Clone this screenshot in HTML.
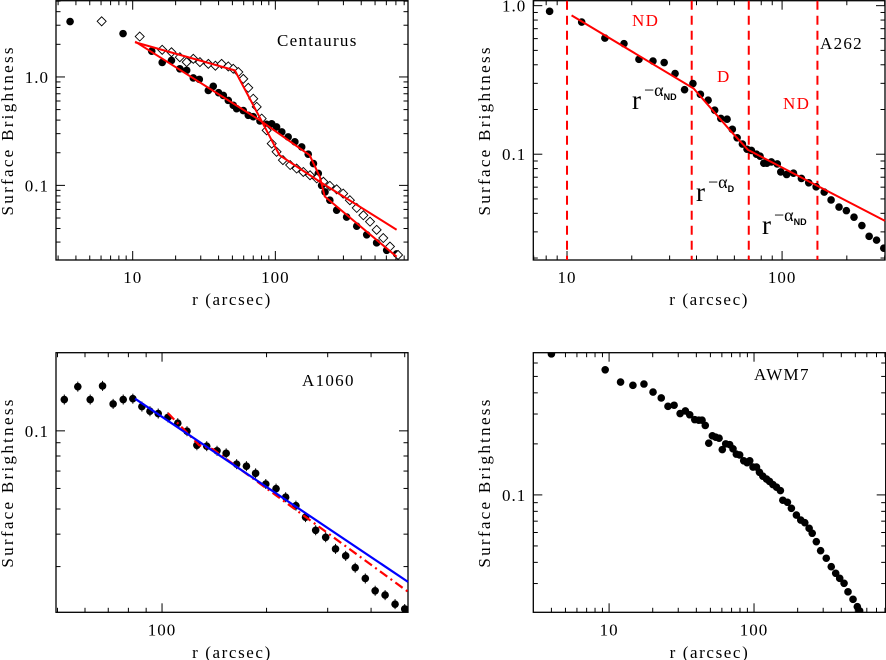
<!DOCTYPE html>
<html><head><meta charset="utf-8">
<style>
html,body{margin:0;padding:0;background:#fff;}
svg{display:block;font-family:"Liberation Serif",serif;}
</style></head>
<body>
<svg id="fig" width="886" height="660" viewBox="0 0 886 660" xmlns="http://www.w3.org/2000/svg"></svg>
<script>
// ---------- Panel 1: Centaurus ----------
const cenFilledR  = [3.64,8.56,13.6,16.1,18.7,21.4,23.9,26.6,29.3,33.9,36.7,40.0,43.2,46.8,50.7,53.5,59.6,64.6,70.0,78.0,86.9,94.3,102,111,123,137,153,170,185,200,211,223,241,269,316,372,437,513,603,708];
const cenFilledSB = [3.24,2.51,1.73,1.36,1.42,1.19,1.15,0.98,0.95,0.75,0.82,0.716,0.676,0.608,0.547,0.51,0.49,0.443,0.43,0.393,0.366,0.37,0.346,0.311,0.28,0.252,0.226,0.194,0.159,0.129,0.1,0.087,0.073,0.059,0.051,0.042,0.035,0.0295,0.0252,0.0233];
const cenDiamR  = [6.06,11.2,16.1,18.7,21.4,23.9,26.6,29.6,33.9,38.0,42,46.8,50.7,55,59.6,64.6,70,74,80.2,86.9,94.3,102,113,127,141,157,175,195,217,241,269,299,333,372,414,461,513,571,636,725];
const cenDiamSB = [3.26,2.36,1.78,1.69,1.52,1.37,1.47,1.37,1.32,1.27,1.32,1.25,1.19,1.11,0.96,0.795,0.63,0.53,0.413,0.322,0.243,0.204,0.171,0.154,0.143,0.133,0.124,0.116,0.108,0.099,0.092,0.084,0.073,0.062,0.053,0.0463,0.0389,0.0327,0.0273,0.0228];
const cenFitDiamR  = [10.4,52,82,107,205,708];
const cenFitDiamSB = [2.09,1.15,0.37,0.19,0.108,0.039];
const cenFitFillR  = [10.4,78,174,205,222,708];
const cenFitFillSB = [2.12,0.398,0.19,0.12,0.079,0.022];
// ---------- Panel 2: A262 ----------
const a262R  = [8.3,11.7,15.0,18.4,21.6,25.1,28.3,31.8,35.2,38.5,41.7,45.3,48.6,51.9,55.5,58.7,61.8,65.4,68.7,72,76,79,82.2,85,89.1,95,98.6,105,113,123,133,144,157,169,184,199,216,235,254,275,297];
const a262SB = [0.916,0.776,0.605,0.555,0.435,0.424,0.414,0.349,0.272,0.299,0.253,0.231,0.198,0.174,0.172,0.147,0.129,0.117,0.108,0.106,0.1,0.097,0.087,0.087,0.0887,0.086,0.076,0.073,0.0745,0.0687,0.0642,0.0603,0.0556,0.0492,0.0441,0.0417,0.0377,0.0331,0.028,0.0264,0.0233];
const a262FitR  = [10.5,38.8,57.5,69.4,301];
const a262FitSB = [0.86,0.277,0.144,0.107,0.0356];
const a262Bounds = [10,38,70,146];
// ---------- Panel 3: A1060 ----------
const a1060R  = [52.3,57.2,62.1,67.4,72.3,77.3,82.4,87.5,92.3,97.5,104,111,118,126,134.5,144,153,164,175,186,199,213,227,243,259,277,296,316,338,360,385,411,439,469,500];
const a1060SB = [0.132,0.148,0.132,0.149,0.127,0.132,0.133,0.124,0.119,0.1166,0.1127,0.107,0.0997,0.088,0.0873,0.0838,0.0819,0.0744,0.0731,0.0686,0.0624,0.0599,0.0555,0.0515,0.0465,0.0414,0.0389,0.0351,0.033,0.0297,0.027,0.0242,0.0233,0.0215,0.0206];
const a1060BlueR  = [83.6,511];
const a1060BlueSB = [0.133,0.0262];
const a1060RedR  = [104,128,140,511];
const a1060RedSB = [0.117,0.088,0.085,0.024];
// ---------- Panel 4: AWM7 ----------
const awm7R  = [4.0,9.4,12.0,14.6,17.4,20.1,22.9,25.5,28.1,30.9,33.6,36,39,41.6,43.8,46.1,48.7,51.6,54.4,57.4,60.4,63.8,67.9,71.6,75.5,79.6,84.9,89.5,93.4,98.4,104,109,115,122,128,135,143,152,158,170,181,196,210,224,240,252,269,288,315,341,366,390,418,445,482,516,535];
const awm7SB = [0.679,0.547,0.463,0.443,0.451,0.404,0.373,0.333,0.338,0.302,0.313,0.297,0.278,0.276,0.276,0.257,0.202,0.223,0.219,0.216,0.185,0.2,0.198,0.187,0.174,0.172,0.159,0.155,0.159,0.146,0.146,0.136,0.129,0.124,0.12,0.115,0.111,0.106,0.093,0.0905,0.0834,0.0761,0.0711,0.0686,0.0635,0.0594,0.053,0.0469,0.0423,0.0377,0.0345,0.0322,0.0301,0.0268,0.0242,0.0219,0.0207];
// tick labels
const p1XTicks=[10,100], p1YTicks=[1.0,0.1], p1YLabels=["1.0","0.1"];
const p2XTicks=[10,100], p2YTicks=[1.0,0.1], p2YLabels=["1.0","0.1"];
const p3XTicks=[100], p3YTicks=[0.1], p3YLabels=["0.1"];
const p4XTicks=[10,100], p4YTicks=[0.1], p4YLabels=["0.1"];

const NS="http://www.w3.org/2000/svg";
const svg=document.getElementById('fig');
function mk(tag,attrs,parent){const e=document.createElementNS(NS,tag);for(const k in attrs)e.setAttribute(k,attrs[k]);(parent||svg).appendChild(e);return e;}
function makePanel(name,L,R,T,B,xmin,xmax,ymin,ymax){
  const g=mk('g',{});
  
  
  const lx0=Math.log10(xmin),lx1=Math.log10(xmax),ly0=Math.log10(ymin),ly1=Math.log10(ymax);
  return {g,L,R,T,B,
    x:v=>L+(Math.log10(v)-lx0)/(lx1-lx0)*(R-L),
    y:v=>B-(Math.log10(v)-ly0)/(ly1-ly0)*(B-T),
    xmin,xmax,ymin,ymax};
}
function frame(p,xt,yt,yl,xlabY,ylabX){
  const f=mk('rect',{x:p.L,y:p.T,width:p.R-p.L,height:p.B-p.T,fill:'none',stroke:'#000','stroke-width':1.3},p.g);
  
  
  for(let e=-3;e<4;e++)for(let k=1;k<10;k++){
    const v=k*Math.pow(10,e);
    if(v>p.xmin&&v<p.xmax){const X=p.x(v),len=k==1?9:4.5;
      mk('line',{x1:X,x2:X,y1:p.B,y2:p.B-len,stroke:'#000','stroke-width':1},p.g);
      mk('line',{x1:X,x2:X,y1:p.T,y2:p.T+len,stroke:'#000','stroke-width':1},p.g);}
    if(v>p.ymin&&v<p.ymax){const Y=p.y(v),len=k==1?9:4.5;
      mk('line',{x1:p.L,x2:p.L+len,y1:Y,y2:Y,stroke:'#000','stroke-width':1},p.g);
      mk('line',{x1:p.R,x2:p.R-len,y1:Y,y2:Y,stroke:'#000','stroke-width':1},p.g);}
  }
  xt.forEach(v=>{const t=mk('text',{x:p.x(v),y:p.B+23,'text-anchor':'middle','font-size':17,'letter-spacing':1,fill:'#000'},p.g);t.textContent=String(v);
    
    });
  yt.forEach((v,i)=>{const t=mk('text',{x:p.L-7,y:p.y(v)+6,'text-anchor':'end','font-size':17,'letter-spacing':1,fill:'#000'},p.g);t.textContent=yl[i];
    
    });
  const xl=mk('text',{x:(p.L+p.R)/2,y:xlabY,'text-anchor':'middle','font-size':17,fill:'#000','letter-spacing':1.6},p.g);xl.textContent='r (arcsec)';
  
  
  const cy=(p.T+p.B)/2;
  const ylb=mk('text',{x:ylabX,y:cy,'text-anchor':'middle','font-size':17,fill:'#000','letter-spacing':2.3,transform:`rotate(-90 ${ylabX} ${cy})`},p.g);ylb.textContent='Surface Brightness';
  
  
}
function clip(p,id){const cp=mk('clipPath',{id});mk('rect',{x:p.L,y:p.T,width:p.R-p.L,height:p.B-p.T},cp);return `url(#${id})`;}
function dots(p,R,S,name,err){
  const g=mk('g',{'clip-path':clip(p,name+'-clip')},p.g);
  
  
  R.forEach((r,i)=>{const X=p.x(r),Y=p.y(S[i]);
    if(err)mk('line',{x1:X,x2:X,y1:Y-5,y2:Y+5,stroke:'#000','stroke-width':1},g);
    const c=mk('circle',{cx:X,cy:Y,r:3.8,fill:'#000'},g);
    
    });
}
function diamonds(p,R,S,name){
  const g=mk('g',{},p.g);
  
  
  R.forEach((r,i)=>{const X=p.x(r),Y=p.y(S[i]),d=4.5;
    const q=mk('polygon',{points:`${X},${Y-d} ${X+d},${Y} ${X},${Y+d} ${X-d},${Y}`,fill:'#fff',stroke:'#000','stroke-width':0.9},g);
    
    });
}
function line(p,R,S,name,color,dash,w){
  const pts=R.map((r,i)=>p.x(r)+','+p.y(S[i])).join(' ');
  const a={points:pts,fill:'none',stroke:color,'stroke-width':w||2};
  if(dash)a['stroke-dasharray']=dash;
  const l=mk('polyline',a,p.g);
  
  
}
function label(p,x,y,txt,name,color,size){
  const t=mk('text',{x,y,'font-size':size||17,'letter-spacing':1.3,fill:color||'#000'},p.g);t.textContent=txt;
  
  return t;
}

// Panel 1
const p1=makePanel('centaurus-panel',56,408,0.7,260,2.9,851,0.0205,5.05);
frame(p1,p1XTicks,p1YTicks,p1YLabels,305,13);
dots(p1,cenFilledR,cenFilledSB,'centaurus-filled-points',false);
diamonds(p1,cenDiamR,cenDiamSB,'centaurus-diamond-points');
line(p1,cenFitDiamR,cenFitDiamSB,'centaurus-fit-diamond','#ff0000');
line(p1,cenFitFillR,cenFitFillSB,'centaurus-fit-filled','#ff0000');
label(p1,277,46,'Centaurus','centaurus-label');

// Panel 2
const p2=makePanel('a262-panel',533.3,885,0.7,260,6.97,301,0.0194,1.08);
frame(p2,p2XTicks,p2YTicks,p2YLabels,305,490);
a262Bounds.forEach(b=>{const X=p2.x(b);const l=mk('line',{x1:X,x2:X,y1:p2.T,y2:p2.B,stroke:'#ff0000','stroke-width':2,'stroke-dasharray':'9,6'},p2.g);
  
  });
dots(p2,a262R,a262SB,'a262-points',false);
line(p2,a262FitR,a262FitSB,'a262-fit','#ff0000');
label(p2,632,26,'ND','nd-label-1','#ff0000');
label(p2,717,82,'D','d-label','#ff0000');
label(p2,783,109,'ND','nd-label-2','#ff0000');
label(p2,820,49,'A262','a262-label');
function rlab(x,y,sub,name){const t=mk('text',{x,y,'font-size':27,fill:'#000'},p2.g);
  
  
  const a=mk('tspan',{'font-size':27},t);a.textContent='r';
  const b=mk('tspan',{'font-size':18,dy:-13,dx:3},t);b.textContent='\u2212\u03b1';
  const c=mk('tspan',{'font-size':9,dy:4,'font-family':'Liberation Sans, sans-serif','font-weight':'bold'},t);c.textContent=sub;}
rlab(632,109,'ND','r-alpha-nd-1');
rlab(696,201,'D','r-alpha-d');
rlab(762,234,'ND','r-alpha-nd-2');

// Panel 3
const p3=makePanel('a1060-panel',56,408,352.7,612.3,49.5,511,0.02,0.2);
frame(p3,p3XTicks,p3YTicks,p3YLabels,658,13);
dots(p3,a1060R,a1060SB,'a1060-points',true);
line(p3,a1060RedR,a1060RedSB,'a1060-fit-red','#ff0000','9,4,2,4',2.2);
line(p3,a1060BlueR,a1060BlueSB,'a1060-fit-blue','#0000ff',null,2.2);
label(p3,302,386,'A1060','a1060-label');

// Panel 4
const p4=makePanel('awm7-panel',533.3,885.7,352.7,612.3,3.0,810,0.0203,0.69);
frame(p4,p4XTicks,p4YTicks,p4YLabels,658,490);
dots(p4,awm7R,awm7SB,'awm7-points',false);
label(p4,754,380,'AWM7','awm7-label');
</script>
</body></html>
